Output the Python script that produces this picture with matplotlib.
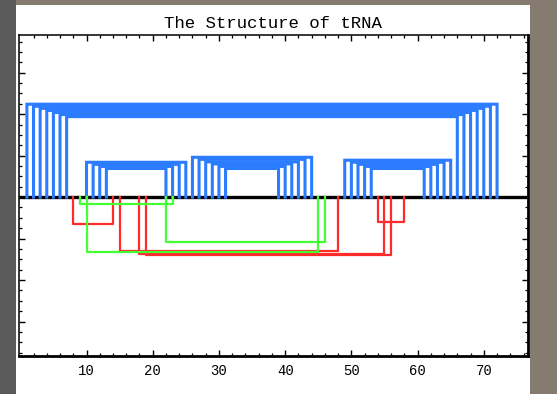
import matplotlib
matplotlib.use("Agg")
import matplotlib.pyplot as plt
from matplotlib.patches import Rectangle
import numpy as np

# secondary structure (blue arcs): 5' base, 3' base, arc height
stem_left = [1, 2, 3, 4, 5, 6, 7,
             10, 11, 12, 13,
             26, 27, 28, 29, 30, 31,
             49, 50, 51, 52, 53]
stem_right = [72, 71, 70, 69, 68, 67, 66,
              25, 24, 23, 22,
              44, 43, 42, 41, 40, 39,
              65, 64, 63, 62, 61]
stem_height = [2.24, 2.19, 2.14, 2.09, 2.04, 1.99, 1.94,
               0.84, 0.79, 0.74, 0.69,
               0.96, 0.91, 0.85, 0.80, 0.74, 0.69,
               0.89, 0.84, 0.79, 0.74, 0.69]

# tertiary interactions drawn below the sequence line
red_left = [8, 15, 18, 19, 54]
red_right = [14, 48, 55, 56, 58]
red_depth = [-0.65, -1.30, -1.36, -1.40, -0.61]

green_left = [9, 22, 10]
green_right = [23, 46, 45]
green_depth = [-0.17, -1.09, -1.33]

x_labels = [10, 20, 30, 40, 50, 60, 70]

fig = plt.figure(figsize=(5.57, 3.94), dpi=100)
fig.patch.set_facecolor('#857b70')
fig.add_artist(Rectangle((0, 0), 16 / 557, 1, transform=fig.transFigure,
                         facecolor='#5a5a5a', edgecolor='none', zorder=-2))
fig.add_artist(Rectangle((16 / 557, 0), 514 / 557, 389 / 394, transform=fig.transFigure,
                         facecolor='white', edgecolor='none', zorder=-1))

ax = fig.add_axes([18.5 / 557, 1 - 355.6 / 394, 509 / 557, 321.1 / 394])
ax.set_facecolor('white')

blue = '#2b7cff'
ax.axhline(0, color='black', lw=2.4, zorder=2)

for i, j, h in zip(stem_left, stem_right, stem_height):
    ax.plot([i, i, j, j], [0, h, h, 0], color=blue, lw=2.2, zorder=3,
            solid_joinstyle='miter', snap=False)

for i, j, d in zip(red_left, red_right, red_depth):
    ax.plot([i, i, j, j], [0, d, d, 0], color='#ff2a2a', lw=1.6, zorder=3)

for i, j, d in zip(green_left, green_right, green_depth):
    ax.plot([i, i, j, j], [0, d, d, 0], color='#44ff33', lw=1.6, zorder=3)

ax.set_xlim(-0.27, 76.6)
ax.set_ylim(-3.82, 3.92)

ax.set_xticks(x_labels)
ax.set_xticks([k for k in range(2, 77, 2) if k % 10 != 0], minor=True)
ax.set_yticks(np.arange(-3, 4, 1))
ax.set_yticks(np.arange(-3.75, 3.9, 0.25), minor=True)
ax.set_yticklabels([])
ax.set_xticklabels([str(v) for v in x_labels], fontfamily='Liberation Mono', fontsize=10)
ax.tick_params(which='both', direction='in', top=True, right=True, color='black')
ax.tick_params(which='major', length=4, width=1.0, pad=6)
ax.tick_params(which='minor', length=2.5, width=0.9)

for side in ['left', 'top']:
    ax.spines[side].set_linewidth(1.1)
for side in ['right', 'bottom']:
    ax.spines[side].set_linewidth(2.0)

fig.text(273 / 557, 1 - 24 / 394, 'The Structure of tRNA', ha='center', va='center',
         fontfamily='Liberation Mono', fontsize=12.5)

fig.savefig('out.png', dpi=100, facecolor=fig.get_facecolor())
